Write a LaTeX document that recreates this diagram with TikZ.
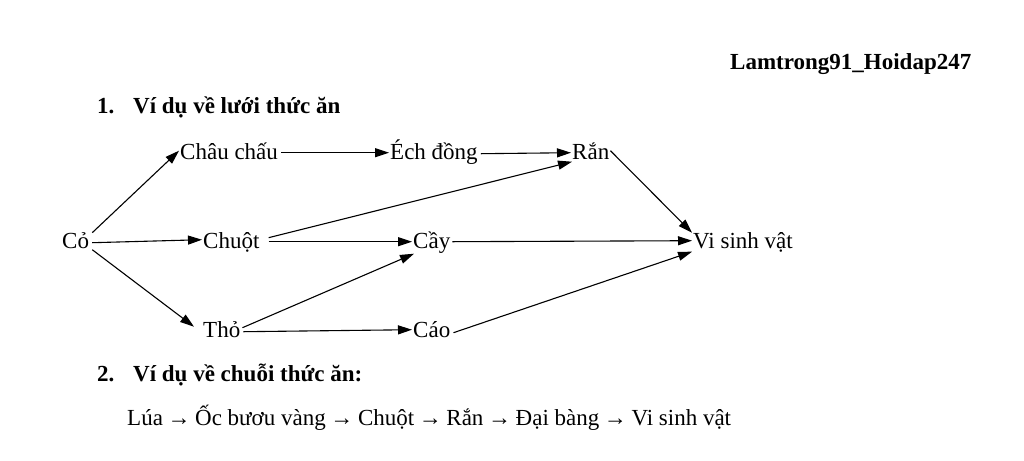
\documentclass[tikz,border=0pt]{standalone}
\usepackage{fontspec}
\setmainfont{Liberation Serif}
\usetikzlibrary{arrows.meta}
\begin{document}
\begin{tikzpicture}[x=1pt,y=-1pt,
  txt/.style={anchor=base west,inner xsep=1pt,inner ysep=0pt,font=\fontsize{23}{27}\selectfont},
  bold/.style={txt,font=\fontsize{23}{27}\selectfont\bfseries},
  arr/.style={line width=1.1pt,-{Triangle[length=14pt,width=9pt]}}]
\useasboundingbox (0,0) rectangle (1024,460);
\node[bold] (credit) at (729,70) {Lamtrong91\_Hoidap247};
\node[bold] (n1) at (96,113) {1.};
\node[bold] (h1) at (132,113) {Ví dụ về lưới thức ăn};
\node[txt] (chau) at (179,159) {Châu chấu};
\node[txt] (ech) at (389,159) {Éch đồng};
\node[txt] (ran) at (571,159) {Rắn};
\node[txt] (co) at (61,248) {Cỏ};
\node[txt] (chuot) at (202,248) {Chuột};
\node[txt] (cay) at (412,248) {Cầy};
\node[txt] (vsv) at (692,248) {Vi sinh vật};
\node[txt] (tho) at (202,337) {Thỏ};
\node[txt] (cao) at (412,337) {Cáo};
\node[bold] (n2) at (96,381) {2.};
\node[bold] (h2) at (132,381) {Ví dụ về chuỗi thức ăn:};
\node[txt] (chain) at (126,425) {Lúa\hspace{0.2em}→\hspace{0.2em}Ốc bươu vàng\hspace{0.2em}→\hspace{0.2em}Chuột\hspace{0.2em}→\hspace{0.2em}Rắn\hspace{0.2em}→\hspace{0.2em}Đại bàng\hspace{0.2em}→\hspace{0.2em}Vi sinh vật};
% arrows
\draw[arr] ([xshift=2pt,yshift=13pt]co.mid east) -- ([yshift=6pt]chau.mid west);
\draw[arr] ([xshift=2pt,yshift=4pt]chau.mid east) -- ([yshift=4pt]ech.mid west);
\draw[arr] ([xshift=2pt,yshift=3pt]ech.mid east) -- ([yshift=4pt]ran.mid west);
\draw[arr] ([xshift=8pt,yshift=8pt]chuot.mid east) -- ([xshift=1pt,yshift=-5pt]ran.mid west);
\draw[arr] ([yshift=6pt]ran.mid east) -- ([yshift=13pt]vsv.mid west);
\draw[arr] ([xshift=2pt,yshift=3pt]co.mid east) -- ([yshift=6pt]chuot.mid west);
\draw[arr] ([xshift=8pt,yshift=4pt]chuot.mid east) -- ([yshift=4pt]cay.mid west);
\draw[arr] ([xshift=1pt,yshift=4pt]cay.mid east) -- ([yshift=5pt]vsv.mid west);
\draw[arr] ([xshift=2pt,yshift=-4pt]co.mid east) -- ([xshift=-8pt,yshift=8pt]tho.mid west);
\draw[arr] ([xshift=1pt,yshift=7pt]tho.mid east) -- ([xshift=2pt,yshift=-8pt]cay.mid west);
\draw[arr] ([xshift=2pt,yshift=3pt]tho.mid east) -- ([yshift=5pt]cao.mid west);
\draw[arr] ([xshift=2pt,yshift=2pt]cao.mid east) -- ([yshift=-6pt]vsv.mid west);
\end{tikzpicture}
\end{document}
